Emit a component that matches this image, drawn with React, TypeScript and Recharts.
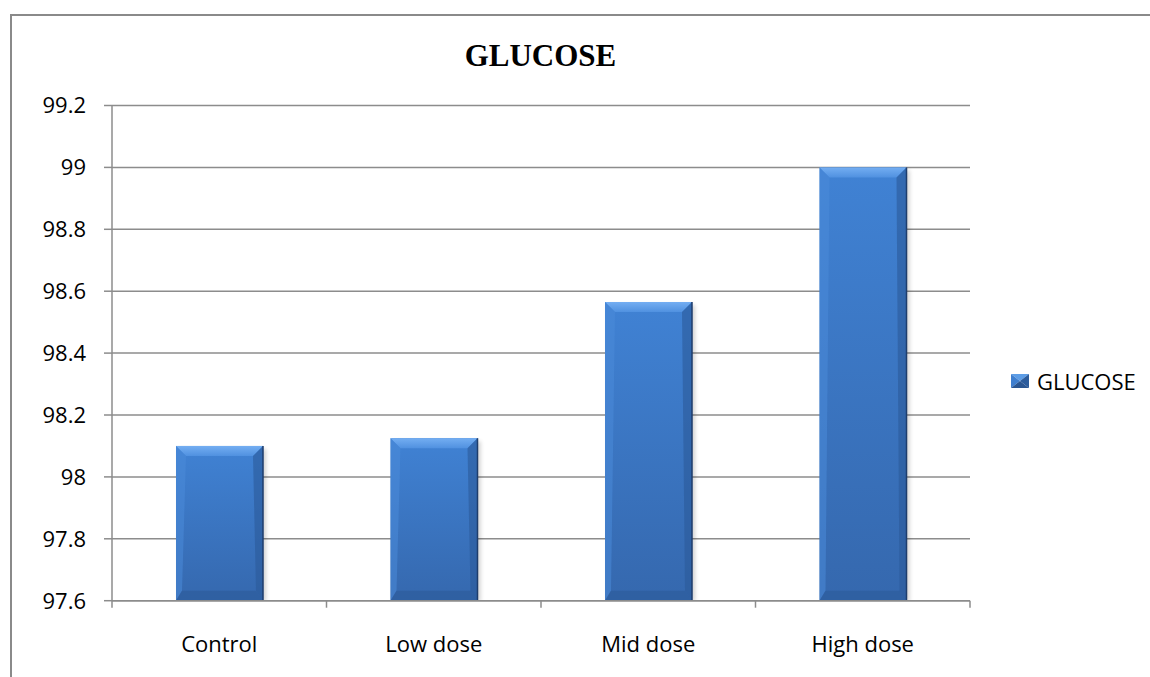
import { BarChart, Bar, XAxis, YAxis, CartesianGrid, Legend } from "recharts";

const categories = ["Control", "Low dose", "Mid dose", "High dose"];
const glucose = [98.1, 98.125, 98.565, 99.0];
const yTicks = [97.6, 97.8, 98, 98.2, 98.4, 98.6, 98.8, 99, 99.2];

const data = categories.map((name, i) => ({ name, GLUCOSE: glucose[i] }));

const GRID = "#8c8c8c";
const FONT = "'Open Sans', Lato, sans-serif";
const LEGEND_H = 30;

// bevelled 3D-looking column
function BevelBar(props: any) {
  const { x, y, width: w, height: h } = props;
  if (!w || !h || h <= 0) return null;
  const b = Math.min(10, h / 3);
  return (
    <g>
      <rect x={x + 3} y={y + 3} width={w} height={h - 2} fill="#000" opacity={0.18} filter="url(#barShadow)" />
      <rect x={x} y={y} width={w} height={h} fill="url(#barBody)" />
      <polygon points={`${x},${y} ${x + w},${y} ${x + w - b},${y + b} ${x + b},${y + b}`} fill="url(#barTop)" />
      <polygon points={`${x},${y} ${x + b},${y + b} ${x + b * 0.6},${y + h - b} ${x},${y + h}`} fill="#4a8ad8" opacity={0.55} />
      <polygon points={`${x + w},${y} ${x + w},${y + h} ${x + w - b * 0.7},${y + h - b} ${x + w - b},${y + b}`} fill="#2b5a9a" opacity={0.6} />
      <polygon points={`${x},${y + h} ${x + w},${y + h} ${x + w - b * 0.7},${y + h - b} ${x + b * 0.6},${y + h - b}`} fill="#2d5c9c" opacity={0.7} />
      <line x1={x + w} y1={y} x2={x + w} y2={y + h} stroke="#1e3d6c" strokeWidth={1.5} />
    </g>
  );
}

function CategoryTick(props: any) {
  const { x, y, payload, index, visibleTicksCount } = props;
  const half = typeof payload.offset === "number" && payload.offset > 0 ? payload.offset : 107.25;
  return (
    <g>
      <line x1={x - half} x2={x - half} y1={y} y2={y + 7} stroke={GRID} strokeWidth={1.5} />
      {index === visibleTicksCount - 1 && (
        <line x1={x + half} x2={x + half} y1={y} y2={y + 7} stroke={GRID} strokeWidth={1.5} />
      )}
      <text x={x} y={y + 51} textAnchor="middle" fontFamily={FONT} fontSize={22} fill="#000">
        {payload.value}
      </text>
    </g>
  );
}

function LegendContent() {
  return (
    <div
      style={{
        display: "flex", alignItems: "center", height: LEGEND_H, lineHeight: `${LEGEND_H}px`,
        fontFamily: FONT, fontSize: 22, color: "#000",
      }}
    >
      <svg width={18} height={14} style={{ marginRight: 8 }}>
        <polygon points="0,0 18,0 9,7" fill="#5d9de6" />
        <polygon points="0,0 9,7 0,14" fill="#3f7fcf" />
        <polygon points="18,0 18,14 9,7" fill="#2c5c9c" />
        <polygon points="0,14 18,14 9,7" fill="#2a5692" />
      </svg>
      <span>GLUCOSE</span>
    </div>
  );
}

export default function App() {
  return (
    <div style={{ position: "fixed", left: 0, top: 0, width: 1150, height: 677, overflow: "hidden", background: "#fff" }}>
      <div
        style={{
          position: "absolute", left: 10, top: 14, width: 1300, height: 800,
          borderLeft: "2px solid #8a8a8a", borderTop: "2px solid #8a8a8a",
        }}
      />
      <div
        style={{
          position: "absolute", left: 0, width: 1081, top: 38, textAlign: "center",
          fontFamily: "'Liberation Serif', 'Times New Roman', serif", fontWeight: "bold", fontSize: 31,
          lineHeight: "36px", color: "#000",
        }}
      >
        GLUCOSE
      </div>
      <div style={{ position: "absolute", left: 0, top: 0 }}>
        <BarChart
          width={1150}
          height={677}
          data={data}
          margin={{ top: 105.5, right: 180, bottom: 76.3 - LEGEND_H, left: 12 }}
        >
          <defs>
            <linearGradient id="barBody" x1="0" y1="0" x2="0" y2="1">
              <stop offset="0%" stopColor="#4082d4" />
              <stop offset="100%" stopColor="#3568ae" />
            </linearGradient>
            <linearGradient id="barTop" x1="0" y1="0" x2="0" y2="1">
              <stop offset="0%" stopColor="#74aef2" />
              <stop offset="100%" stopColor="#5091e0" />
            </linearGradient>
            <filter id="barShadow" x="-20%" y="-20%" width="140%" height="140%">
              <feGaussianBlur stdDeviation="2" />
            </filter>
          </defs>
          <CartesianGrid vertical={false} stroke={GRID} strokeWidth={1.5} />
          <XAxis
            dataKey="name"
            stroke={GRID}
            strokeWidth={1.5}
            tickLine={false}
            tickSize={0}
            tickMargin={0}
            tick={<CategoryTick />}
            interval={0}
          />
          <YAxis
            width={100}
            domain={[97.6, 99.2]}
            ticks={yTicks}
            allowDataOverflow
            stroke={GRID}
            strokeWidth={1.5}
            tickSize={8}
            tickMargin={18}
            tickFormatter={(v: number) => String(Number(v.toFixed(1)))}
            tick={{ fill: "#000", fontFamily: FONT, fontSize: 22 }}
          />
          <Legend
            layout="vertical"
            align="center"
            verticalAlign="middle"
            content={<LegendContent />}
            wrapperStyle={{ left: 1011, top: 366, width: 140 }}
          />
          <Bar dataKey="GLUCOSE" barSize={87} shape={<BevelBar />} isAnimationActive={false} />
        </BarChart>
      </div>
    </div>
  );
}
